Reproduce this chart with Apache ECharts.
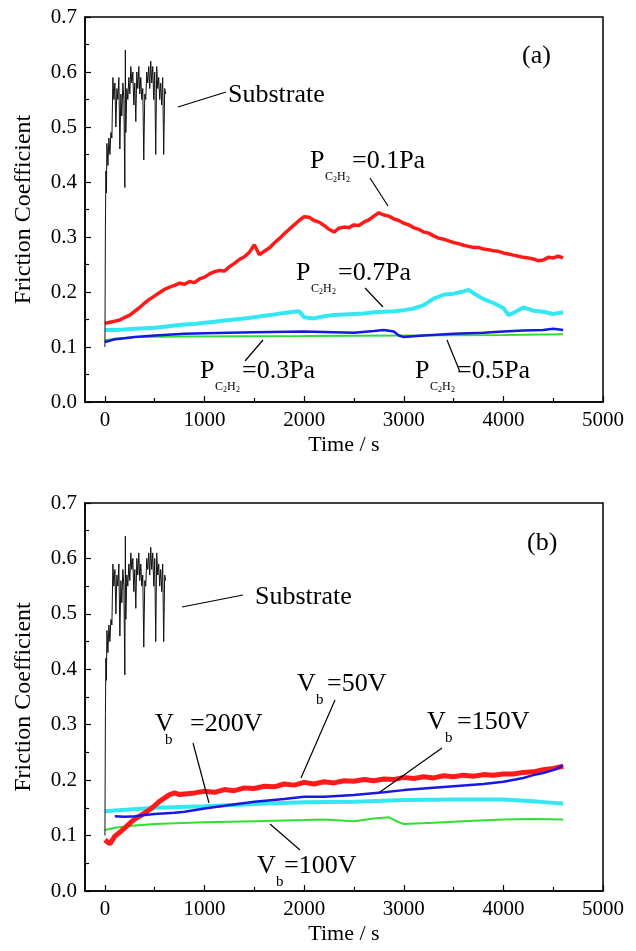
<!DOCTYPE html>
<html><head><meta charset="utf-8">
<script src="https://cdn.jsdelivr.net/npm/echarts@6/dist/echarts.min.js"></script>
<style>html,body{margin:0;padding:0;background:#fff}#c{width:636px;height:951px}</style>
</head><body><div id="c"></div>
<script>
// ---------- tick labels ----------
const xMajorTicks = [0, 1000, 2000, 3000, 4000, 5000];
const xMinorTicks = [500, 1500, 2500, 3500, 4500];

// ---------- substrate (same curve in both panels) ----------
const subT = [0,5,10,15,20,30,40,50,60,70,80,90,100,110,120,130,140,150,160,170,180,190,200,205,210,220,230,240,250,260,270,280,290,300,310,320,330,340,350,360,370,380,390,400,410,420,430,440,450,460,470,480,490,500,510,520,530,540,550,560,570,580,590,600,610];
const subV = [0.10,0.32,0.42,0.38,0.47,0.43,0.48,0.45,0.49,0.48,0.59,0.55,0.58,0.50,0.57,0.55,0.59,0.46,0.56,0.52,0.58,0.55,0.39,0.64,0.49,0.57,0.55,0.59,0.56,0.61,0.58,0.60,0.54,0.58,0.51,0.60,0.57,0.61,0.56,0.59,0.55,0.57,0.44,0.56,0.55,0.60,0.58,0.61,0.57,0.62,0.58,0.61,0.55,0.60,0.45,0.61,0.57,0.59,0.55,0.58,0.54,0.59,0.45,0.57,0.56];

// ---------- panel (a) ----------
const a01T = [0,50,100,150,200,250,300,350,400,450,500,550,600,650,700,750,800,850,900,950,1000,1050,1100,1150,1200,1250,1300,1350,1400,1450,1500,1550,1600,1650,1700,1750,1800,1850,1900,1950,2000,2050,2100,2150,2200,2250,2300,2350,2400,2450,2500,2550,2600,2650,2700,2750,2800,2850,2900,2950,3000,3050,3100,3150,3200,3250,3300,3350,3400,3450,3500,3550,3600,3650,3700,3750,3800,3850,3900,3950,4000,4050,4100,4150,4200,4250,4300,4350,4400,4450,4500,4550,4600];
const a01V = [0.143,0.145,0.147,0.149,0.154,0.158,0.165,0.172,0.180,0.187,0.193,0.199,0.205,0.209,0.212,0.216,0.214,0.219,0.217,0.224,0.227,0.233,0.237,0.239,0.238,0.246,0.252,0.259,0.264,0.272,0.286,0.268,0.274,0.280,0.289,0.297,0.306,0.314,0.322,0.330,0.337,0.336,0.330,0.327,0.321,0.314,0.309,0.316,0.318,0.317,0.322,0.321,0.327,0.331,0.338,0.344,0.340,0.338,0.333,0.330,0.325,0.322,0.317,0.314,0.309,0.307,0.302,0.298,0.296,0.293,0.290,0.288,0.285,0.283,0.281,0.281,0.278,0.277,0.275,0.274,0.271,0.269,0.267,0.265,0.263,0.262,0.260,0.257,0.258,0.263,0.262,0.265,0.262];
const a07T = [0,100,200,300,400,500,600,700,800,900,1000,1100,1200,1300,1400,1500,1600,1700,1800,1900,1950,2000,2100,2200,2300,2400,2500,2600,2700,2800,2900,3000,3100,3200,3300,3400,3500,3600,3650,3700,3800,3900,4000,4050,4100,4200,4300,4400,4500,4600];
const a07V = [0.131,0.131,0.132,0.133,0.134,0.135,0.137,0.139,0.141,0.142,0.144,0.146,0.148,0.150,0.152,0.154,0.157,0.159,0.162,0.164,0.165,0.154,0.152,0.156,0.158,0.159,0.160,0.161,0.163,0.164,0.165,0.167,0.170,0.176,0.188,0.195,0.197,0.201,0.204,0.198,0.187,0.180,0.171,0.158,0.162,0.172,0.166,0.164,0.160,0.163];
const a05T = [0,100,200,300,500,800,1000,1500,2000,2300,2500,2700,2800,2900,2950,3000,3200,3500,3800,4000,4200,4400,4500,4600];
const a05V = [0.109,0.114,0.116,0.118,0.121,0.124,0.125,0.127,0.128,0.127,0.126,0.129,0.131,0.128,0.121,0.118,0.121,0.124,0.126,0.128,0.130,0.131,0.133,0.131];
const a03T = [0,100,300,800,2000,3000,4000,4600];
const a03V = [0.112,0.115,0.118,0.119,0.120,0.121,0.122,0.123];

// ---------- panel (b) ----------
const b50T = [0,50,100,150,200,250,300,350,400,450,500,550,600,650,700,750,800,900,1000,1100,1200,1300,1400,1500,1600,1700,1800,1900,2000,2100,2200,2300,2400,2500,2600,2700,2800,2900,3000,3100,3200,3300,3400,3500,3600,3700,3800,3900,4000,4100,4200,4300,4400,4500,4600];
const b50V = [0.092,0.085,0.099,0.106,0.114,0.122,0.130,0.135,0.141,0.147,0.154,0.162,0.168,0.174,0.177,0.174,0.175,0.177,0.180,0.178,0.183,0.181,0.186,0.185,0.189,0.188,0.193,0.191,0.196,0.193,0.197,0.195,0.199,0.198,0.201,0.199,0.202,0.201,0.205,0.203,0.206,0.204,0.208,0.206,0.209,0.207,0.210,0.209,0.211,0.211,0.214,0.215,0.219,0.221,0.225];
const b150T = [100,200,300,400,500,700,800,1000,1200,1500,1800,2000,2200,2500,2800,3000,3200,3500,3800,4000,4200,4300,4400,4500,4600];
const b150V = [0.135,0.134,0.135,0.137,0.139,0.141,0.143,0.149,0.154,0.161,0.166,0.170,0.170,0.173,0.178,0.182,0.185,0.189,0.193,0.197,0.204,0.209,0.213,0.218,0.226];
const b200T = [0,500,1000,1500,2000,2500,3000,3500,4000,4300,4500,4600];
const b200V = [0.144,0.150,0.153,0.157,0.160,0.161,0.164,0.165,0.165,0.162,0.159,0.158];
const b100T = [0,100,300,500,1000,1500,2000,2200,2500,2700,2850,2950,3000,3300,3600,4000,4300,4600];
const b100V = [0.110,0.114,0.118,0.121,0.124,0.126,0.128,0.129,0.126,0.131,0.133,0.124,0.121,0.123,0.126,0.129,0.130,0.129];

const FF = 'Liberation Serif';
const pairs = (t, v) => t.map((x, i) => [x, v[i]]);

const grids = [
  {left: 85, top: 17, width: 518, height: 385},
  {left: 85, top: 503, width: 518, height: 388}
];

function xAxesFor(g) {
  return [
    {type:'value', gridIndex:g, min:-200, max:5000, position:'bottom',
     name:'Time / s', nameLocation:'middle', nameGap:32,
     nameTextStyle:{fontFamily:FF, fontSize:22, color:'#000'},
     axisLine:{show:true, onZero:false, lineStyle:{color:'#000', width:1.5}},
     axisTick:{show:true, inside:true, length:6, lineStyle:{color:'#000', width:1.2}, customValues:xMajorTicks},
     axisLabel:{show:true, customValues:xMajorTicks, fontFamily:FF, fontSize:21, color:'#000', margin:8, formatter:v => String(v)},
     splitLine:{show:false}},
    {type:'value', gridIndex:g, min:-200, max:5000, position:'bottom',
     axisLine:{show:false, onZero:false},
     axisTick:{show:true, inside:true, length:4, lineStyle:{color:'#000', width:1.2}, customValues:xMinorTicks},
     axisLabel:{show:false}, splitLine:{show:false}}
  ];
}
function yAxisFor(g) {
  return {type:'value', gridIndex:g, min:0, max:0.7, interval:0.1, position:'left',
    name:'Friction Coefficient', nameLocation:'middle', nameGap:49,
    nameTextStyle:{fontFamily:FF, fontSize:24, color:'#000'},
    axisLine:{show:true, onZero:false, lineStyle:{color:'#000', width:1.5}},
    axisTick:{show:true, inside:true, length:6, lineStyle:{color:'#000', width:1.2}},
    minorTick:{show:true, splitNumber:2, length:4, lineStyle:{color:'#000', width:1.2}},
    axisLabel:{fontFamily:FF, fontSize:21, color:'#000', margin:8, formatter:v => v.toFixed(1)},
    splitLine:{show:false}};
}

function line(name, xi, yi, data, color, width, z) {
  return {name, type:'line', xAxisIndex:xi, yAxisIndex:yi, data, showSymbol:false, symbol:'none',
    lineStyle:{color, width}, itemStyle:{color}, z, animation:false, silent:true};
}

const RED = '#ff1a1a', CYAN = '#33e8f2', BLUE = '#1818e0', GREEN = '#30e030', BLACK = '#111';

const series = [
  line('0.3Pa', 0, 0, pairs(a03T, a03V), GREEN, 2, 2),
  line('0.5Pa', 0, 0, pairs(a05T, a05V), BLUE, 2.5, 3),
  line('0.7Pa', 0, 0, pairs(a07T, a07V), CYAN, 4, 4),
  line('0.1Pa', 0, 0, pairs(a01T, a01V), RED, 3.5, 5),
  line('Substrate', 0, 0, pairs(subT, subV), BLACK, 1, 6),
  line('100V', 2, 1, pairs(b100T, b100V), GREEN, 2, 2),
  line('200V', 2, 1, pairs(b200T, b200V), CYAN, 4, 3),
  line('150V', 2, 1, pairs(b150T, b150V), BLUE, 2.5, 4),
  line('50V', 2, 1, pairs(b50T, b50V), RED, 5, 3.5),
  line('Substrate ', 2, 1, pairs(subT, subV), BLACK, 1, 6)
];

// ---------- annotations ----------
function txt(x, y, text, size) {
  return {type:'text', x, y, z:100, style:{text, fontFamily:FF, fontSize:size, fill:'#000', verticalAlign:'middle', align:'left'}};
}
function seg(x1, y1, x2, y2) {
  return {type:'line', z:100, shape:{x1, y1, x2, y2}, style:{stroke:'#000', lineWidth:1.2}};
}
function pLabel(x, y, rest) {
  return [
    txt(x, y, 'P', 26),
    txt(x + 15, y + 16, 'C', 12),
    txt(x + 23, y + 19, '2', 8),
    txt(x + 27, y + 16, 'H', 12),
    txt(x + 36, y + 19, '2', 8),
    txt(x + 42, y, rest, 26)
  ];
}
function vLabel(x, y, bx, rest, rx) {
  return [
    txt(x, y, 'V', 26),
    txt(x + bx, y + 16, 'b', 15),
    txt(x + rx, y, rest, 26)
  ];
}
const graphics = [
  txt(522, 56, '(a)', 26),
  txt(228, 95, 'Substrate', 26), seg(178, 107, 226, 92),
  ...pLabel(310, 161, '=0.1Pa'), seg(370, 178, 388, 206),
  ...pLabel(296, 273, '=0.7Pa'), seg(365, 288, 383, 307),
  ...pLabel(200, 371, '=0.3Pa'), seg(245, 361, 263, 340),
  ...pLabel(415, 371, '=0.5Pa'), seg(447, 340, 460, 372),
  txt(527, 543, '(b)', 26),
  txt(255, 597, 'Substrate', 26), seg(182, 607, 243, 595),
  ...vLabel(297, 684, 19, '=50V', 30), seg(335, 700, 301, 778),
  ...vLabel(155, 724, 10, '=200V', 35), seg(193, 743, 209, 803),
  ...vLabel(427, 722, 18, '=150V', 30), seg(442, 748, 380, 792),
  ...vLabel(257, 866, 19, '=100V', 27), seg(270, 824, 300, 850)
];

const chart = echarts.init(document.getElementById('c'), null, {renderer:'canvas'});
chart.setOption({
  animation:false,
  backgroundColor:'#fff',
  grid: grids.map(g => Object.assign({show:true, borderColor:'#000', borderWidth:1.5, backgroundColor:'transparent'}, g)),
  xAxis: [...xAxesFor(0), ...xAxesFor(1)],
  yAxis: [yAxisFor(0), yAxisFor(1)],
  series,
  graphic: graphics
});
</script></body></html>
